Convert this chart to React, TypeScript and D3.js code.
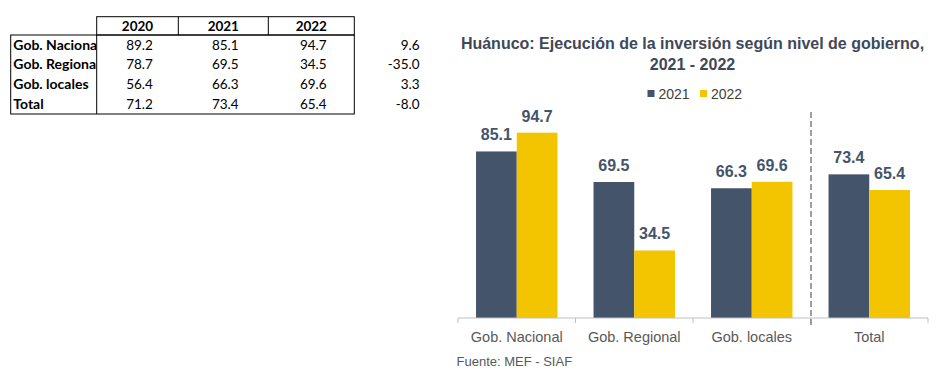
import React from "react";
import * as d3 from "d3";

const categories = ["Gob. Nacional", "Gob. Regional", "Gob. locales", "Total"];
const seriesNames = ["2021", "2022"];
const values2021 = [85.1, 69.5, 66.3, 73.4];
const values2022 = [94.7, 34.5, 69.6, 65.4];

const tableRows = ["Gob. Nacional", "Gob. Regional", "Gob. locales", "Total"];
const tableYears = ["2020", "2021", "2022"];
const table2020 = [89.2, 78.7, 56.4, 71.2];
const table2021 = [85.1, 69.5, 66.3, 73.4];
const table2022 = [94.7, 34.5, 69.6, 65.4];
const tableDiff = [9.6, -35.0, 3.3, -8.0];

const titleLines = ["Huánuco: Ejecución de la inversión según nivel de gobierno,", "2021 - 2022"];
const sourceText = "Fuente: MEF - SIAF";

const colors = ["#44546A", "#F2C500"];

const fmt = (v: number) => v.toFixed(1);

export default function App() {
  const W = 941, H = 377;
  const x0 = d3.scaleBand<string>().domain(categories).range([458, 928]).paddingInner(0).paddingOuter(0);
  const x1 = d3.scaleBand<string>().domain(seriesNames).range([0, x0.bandwidth()]).paddingInner(0).paddingOuter(0.443);
  const y = d3.scaleLinear().domain([0, 100]).range([318, 122.3]);
  const series = [values2021, values2022];
  const base = y(0);

  // table geometry
  const colEdges = [10.7, 96.7, 178.3, 268.3, 354.3];
  const rowY = d3.scaleBand<string>().domain(tableRows).range([35, 114]);
  const tableCols = [table2020, table2021, table2022];
  const tFont = "Lato, 'Open Sans', sans-serif";

  return (
    <svg width={W} height={H} style={{ position: "absolute", left: 0, top: 0, background: "#fff" }}>
      <defs>
        <clipPath id="labelClip">
          <rect x={colEdges[0]} y={35} width={colEdges[1] - colEdges[0] - 0.5} height={80} />
        </clipPath>
      </defs>
      <rect x={0} y={0} width={W} height={H} fill="#fff" />
      {/* Table */}
      <g fontFamily={tFont} fill="#000">
        <rect x={colEdges[1]} y={16.7} width={colEdges[4] - colEdges[1]} height={35 - 16.7} fill="none" stroke="#000" strokeWidth={1} />
        {[2, 3].map((i) => (
          <line key={i} x1={colEdges[i]} x2={colEdges[i]} y1={16.7} y2={35} stroke="#000" />
        ))}
        <rect x={colEdges[0]} y={35} width={colEdges[4] - colEdges[0]} height={114 - 35} fill="none" stroke="#000" strokeWidth={1} />
        <line x1={colEdges[1]} x2={colEdges[1]} y1={35} y2={114} stroke="#000" />
        {tableYears.map((yr, i) => (
          <text key={yr} x={(colEdges[i + 1] + colEdges[i + 2]) / 2} y={30.7} textAnchor="middle" fontWeight="bold" fontSize={13.5}>
            {yr}
          </text>
        ))}
        {tableRows.map((r, j) => {
          const yy = (rowY(r) as number) + 14.5;
          return (
            <g key={r}>
              <text x={13.3} y={yy} fontWeight="bold" fontSize={14} clipPath="url(#labelClip)">
                {r}
              </text>
              {tableCols.map((col, i) => (
                <text key={i} x={(colEdges[i + 1] + colEdges[i + 2]) / 2 + 2} y={yy} textAnchor="middle" fontSize={13.5}>
                  {fmt(col[j])}
                </text>
              ))}
              <text x={419.5} y={yy} textAnchor="end" fontSize={13.5}>
                {fmt(tableDiff[j])}
              </text>
            </g>
          );
        })}
      </g>

      {/* Chart */}
      <g fontFamily="'Liberation Sans', Arial, sans-serif">
        {titleLines.map((t, i) => (
          <text key={i} x={692.5} y={49 + i * 21} textAnchor="middle" fontWeight="bold" fontSize={16} fill="#404858">
            {t}
          </text>
        ))}
        {/* legend */}
        {seriesNames.map((s, i) => {
          const lx = [647.5, 700][i];
          return (
            <g key={s}>
              <rect x={lx} y={90} width={7} height={7} fill={colors[i]} />
              <text x={lx + 11} y={99} fontSize={14} fill="#404040">
                {s}
              </text>
            </g>
          );
        })}
        {/* bars */}
        {categories.map((c, ci) => (
          <g key={c} transform={`translate(${x0(c)},0)`}>
            {seriesNames.map((s, si) => {
              const v = series[si][ci];
              const bx = x1(s) as number;
              return (
                <g key={s}>
                  <rect x={bx} y={y(v)} width={x1.bandwidth()} height={base - y(v)} fill={colors[si]} />
                  <text x={bx + x1.bandwidth() / 2} y={y(v) - 11} textAnchor="middle" fontWeight="bold" fontSize={16} fill="#44546A">
                    {fmt(v)}
                  </text>
                </g>
              );
            })}
            <text x={x0.bandwidth() / 2} y={342} textAnchor="middle" fontSize={14.5} fill="#595959">
              {c}
            </text>
          </g>
        ))}
        {/* axis */}
        <line x1={458} x2={928} y1={base} y2={base} stroke="#BFBFBF" strokeWidth={1} />
        {[...categories.map((c) => x0(c) as number), 928].map((tx, i) => (
          <line key={i} x1={tx} x2={tx} y1={base} y2={base + 5} stroke="#BFBFBF" strokeWidth={1} />
        ))}
        {/* dashed separator */}
        <line x1={811} x2={811} y1={112} y2={326} stroke="#808080" strokeWidth={1.5} strokeDasharray="6,3" />
        <text x={456.5} y={366} fontSize={13} fill="#595959">
          {sourceText}
        </text>
      </g>
    </svg>
  );
}
